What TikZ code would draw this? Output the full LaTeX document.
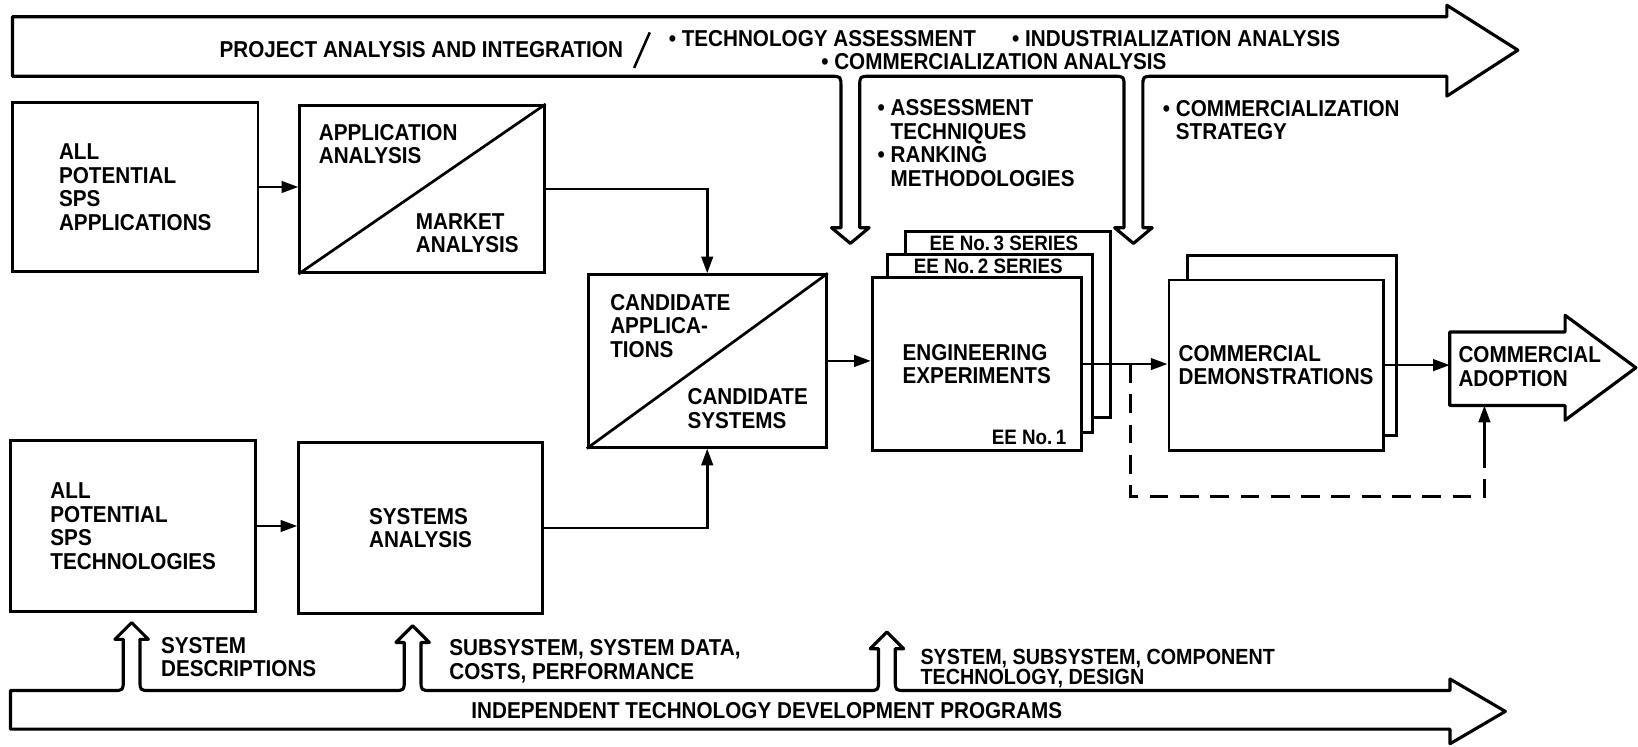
\documentclass[tikz,border=0pt]{standalone}
\usepackage{fontspec}
\setmainfont{Liberation Sans}[FakeStretch=0.9]
\usetikzlibrary{calc, arrows.meta}

\begin{document}
\begin{tikzpicture}[x=1pt, y=-1pt,
    every node/.style={font=\fontsize{22}{22.5}\selectfont\bfseries},
    box/.style={draw, line width=2.8pt, fill=white, inner sep=0pt, align=left},
    txt/.style={inner sep=0pt, align=left},
    con/.style={line width=2.6pt, -{Triangle[length=16pt,width=11pt]}},
    band/.style={draw, line width=3pt, line join=round},
    small/.style={font=\fontsize{20}{22}\selectfont\bfseries}]
    \fill[white] (0,0) rectangle (1568,715);
    \useasboundingbox (0,0) rectangle (1568,715);

    \draw[band] (12,16) -- (1385,16) -- (1385,5) -- (1453,48) -- (1385,92) -- (1385,73)
        -- (1104,73) .. controls (1094,73) .. (1094,83) -- (1094,218) -- (1103,218) -- (1085,233) -- (1067,218) -- (1076,218)
        -- (1076,83) .. controls (1076,73) .. (1066,73)
        -- (833,73) .. controls (823,73) .. (823,83) -- (823,218) -- (832,218) -- (814,233) -- (796,218) -- (805,218)
        -- (805,83) .. controls (805,73) .. (795,73) -- (12,73) -- cycle;
    \draw[band] (10,661) -- (108,661) .. controls (118,661) .. (118,651) -- (118,612) -- (110,612) -- (126,596) -- (142,612) -- (134,612)
        -- (134,651) .. controls (134,661) .. (144,661)
        -- (377,661) .. controls (387,661) .. (387,651) -- (387,615) -- (379,615) -- (395,599) -- (411,615) -- (403,615)
        -- (403,651) .. controls (403,661) .. (413,661)
        -- (831,661) .. controls (841,661) .. (841,651) -- (841,621) -- (833,621) -- (849,605) -- (865,621) -- (857,621)
        -- (857,651) .. controls (857,661) .. (867,661)
        -- (1388,661) -- (1388,650) -- (1441,681) -- (1388,712) -- (1388,698) -- (10,698) -- cycle;

    \node[txt, anchor=west] (proj) at (210,47) {PROJECT ANALYSIS AND INTEGRATION};
    \coordinate (slA) at (607,65);
    \coordinate (slB) at (622,31);
    \draw[line width=2.4pt] (slA) -- (slB);
    \node[txt, anchor=west] (techass) at (640,37) {• TECHNOLOGY ASSESSMENT};
    \node[txt, anchor=east] (indan) at (1283,37) {• INDUSTRIALIZATION ANALYSIS};
    \node[txt, anchor=west] (comman) at (786,59) {• COMMERCIALIZATION ANALYSIS};
    \node[txt, anchor=west] (methods) at (840,137) {• ASSESSMENT\\\phantom{•\ }TECHNIQUES\\• RANKING\\\phantom{•\ }METHODOLOGIES};
    \node[txt, anchor=west] (strat) at (1113,115) {• COMMERCIALIZATION\\\phantom{•\ }STRATEGY};

    \node[box, minimum width=235, minimum height=162] (apps) at (129.5,179) {ALL\\POTENTIAL\\SPS\\APPLICATIONS};
    \node[box, minimum width=234, minimum height=160] (appan) at (404,181) {};
    \draw[line width=2.6pt] (appan.south west) -- (appan.north east);
    \node[txt, anchor=west] (applbl) at (305,138) {APPLICATION\\ANALYSIS};
    \node[txt, anchor=west] (mktlbl) at (398,223) {MARKET\\ANALYSIS};
    \node[box, minimum width=235, minimum height=163] (techs) at (127.5,503.5) {ALL\\POTENTIAL\\SPS\\TECHNOLOGIES};
    \node[box, minimum width=233, minimum height=163] (sysan) at (402.5,505.5) {SYSTEMS\\ANALYSIS};
    \node[box, minimum width=228, minimum height=165] (cand) at (677,345.5) {};
    \draw[line width=2.6pt] (cand.south west) -- (cand.north east);
    \node[txt, anchor=west] (candapp) at (584,312) {CANDIDATE\\APPLICA-\\TIONS};
    \node[txt, anchor=west] (candsys) at (658,391) {CANDIDATE\\SYSTEMS};

    \node[box, minimum width=196, minimum height=178] (ee3) at (965,311) {};
    \node[box, minimum width=196, minimum height=170] (ee2) at (948,329) {};
    \node[box, minimum width=200, minimum height=165] (ee1) at (935,348.5) {ENGINEERING\\EXPERIMENTS};
    \node[txt, small] (ee3lbl) at (961,233) {EE No.\,3 SERIES};
    \node[txt, small] (ee2lbl) at (946,255) {EE No.\,2 SERIES};
    \node[txt, small, anchor=south east] (ee1lbl) at (1021,426) {EE No.\,1};

    \node[box, minimum width=200, minimum height=172] (demo2) at (1237,331) {};
    \node[box, minimum width=205, minimum height=163] (demo1) at (1221.5,349.5) {COMMERCIAL\\DEMONSTRATIONS};

    \node[txt, minimum width=110, minimum height=70] (adopt) at (1443,353) {};
    \draw[band] (adopt.north west) -- (adopt.north east) -- ++(0,-16) -- (1566,352)
        -- ($(adopt.south east)+(0,14)$) -- (adopt.south east) -- (adopt.south west) -- cycle;
    \node[txt, anchor=west] (adoptlbl) at (1396,351) {COMMERCIAL\\ADOPTION};

    \draw[con] (apps.east) -- (apps.east -| appan.west);
    \draw[con] (appan.east) -| (cand.north);
    \draw[con] (techs.east) -- (techs.east -| sysan.west);
    \draw[con] (sysan.east) -| (cand.south);
    \draw[con] (cand.east) -- (cand.east -| ee1.west);
    \draw[con] (ee1.east) -- (ee1.east -| demo1.west);
    \draw[con] (demo1.east) -- (demo1.east -| adopt.west);
    \coordinate (fbtop) at (1082,348.5);
    \coordinate (fbcorner) at (1421,475);
    \coordinate (fbend) at (1421,447);
    \draw[line width=2.6pt, dash pattern=on 18pt off 11pt] (fbtop) |- (fbcorner) -- (fbend);
    \draw[con] (fbend) -- (fbend |- adopt.south);

    \node[txt, anchor=west] (sysdesc) at (154,629) {SYSTEM\\DESCRIPTIONS};
    \node[txt, anchor=west] (sysdata) at (430,633) {SUBSYSTEM, SYSTEM DATA,\\COSTS, PERFORMANCE};
    \node[txt, anchor=west, font=\fontsize{21}{19.5}\selectfont\bfseries] (compdes) at (881,640) {SYSTEM, SUBSYSTEM, COMPONENT\\TECHNOLOGY, DESIGN};
    \node[txt] (indep) at (734,680) {INDEPENDENT TECHNOLOGY DEVELOPMENT PROGRAMS};
\end{tikzpicture}
\end{document}
